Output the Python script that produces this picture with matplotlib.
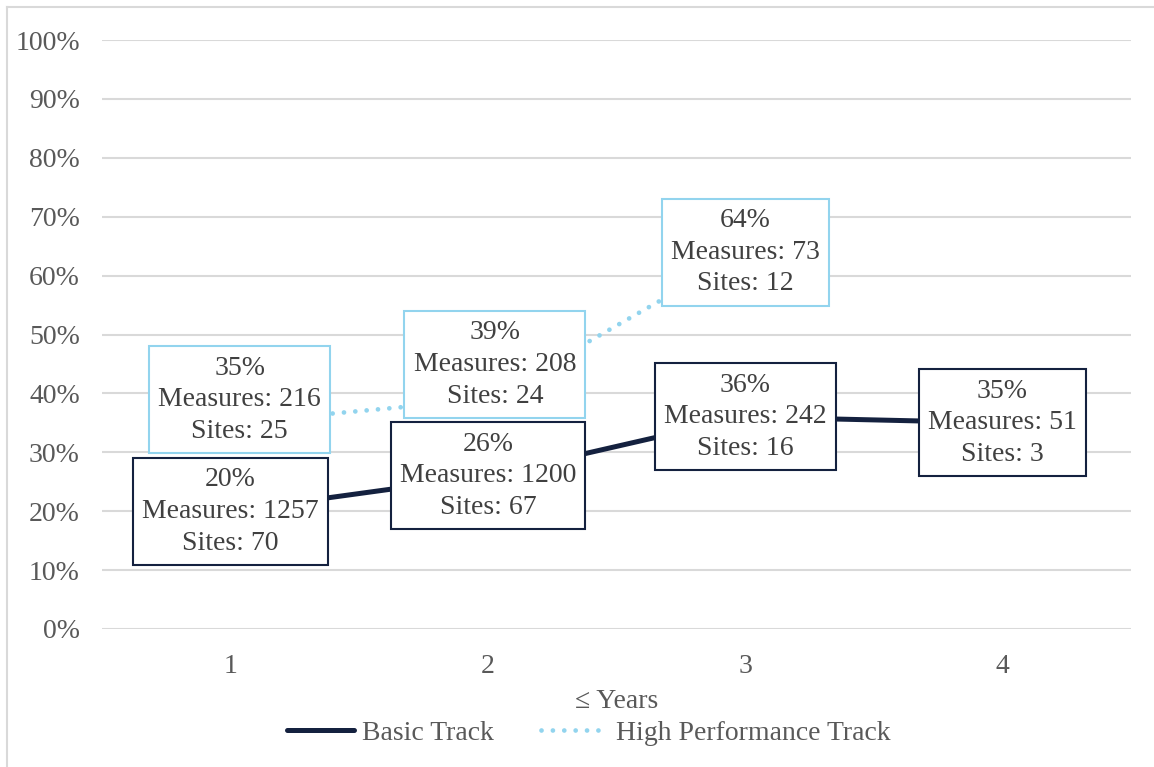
import matplotlib
matplotlib.use("Agg")
import matplotlib.pyplot as plt
from matplotlib.lines import Line2D

plt.rcParams['font.family'] = ['Liberation Serif', 'DejaVu Serif']

years = ["1", "2", "3", "4"]
basic_pct = [20, 26, 36, 35]
basic_measures = [1257, 1200, 242, 51]
basic_sites = [70, 67, 16, 3]
hp_pct = [35, 39, 64]
hp_measures = [216, 208, 73]
hp_sites = [25, 24, 12]

NAVY = "#14213f"
LIGHT = "#92d4ee"
TEXT = "#595959"
GRID = "#d9d9d9"
FS = 20
DOTS = (0, (0.01, 2.4))

fig = plt.figure(figsize=(11.54, 7.67), dpi=100)
ax = fig.add_axes([102 / 1154, 1 - 629 / 767, (1131 - 102) / 1154, (629 - 40) / 767])

x_basic = list(range(1, len(basic_pct) + 1))
x_hp = list(range(1, len(hp_pct) + 1))

ax.plot(x_basic, basic_pct, color=NAVY, lw=3.6, solid_capstyle='round', zorder=3)
ax.plot(x_hp, hp_pct, color=LIGHT, lw=3.4, linestyle=DOTS,
        dash_capstyle='round', zorder=3)

ax.set_xlim(0.5, 4.5)
ax.set_ylim(0, 100)
ax.set_yticks(range(0, 101, 10))
ax.set_yticklabels([f"{v}%" for v in range(0, 101, 10)])
ax.set_xticks(x_basic)
ax.set_xticklabels(years)
ax.yaxis.grid(True, color=GRID, lw=1.5)
ax.set_axisbelow(True)
for s in ax.spines.values():
    s.set_visible(False)
ax.tick_params(axis='both', length=0, labelsize=FS, labelcolor=TEXT)
ax.tick_params(axis='y', pad=16)
ax.tick_params(axis='x', pad=18)
ax.set_xlabel("≤ Years", fontsize=FS, color=TEXT, labelpad=7)


def label(x, pct, meas, sites, edge, offset):
    ax.annotate(f"{pct}%\nMeasures: {meas}\nSites: {sites}",
                xy=(x, pct), xytext=offset, textcoords='offset points',
                ha='center', va='center', fontsize=FS, color="#404040",
                linespacing=1.36, zorder=5,
                bbox=dict(boxstyle="square,pad=0.33", fc="white", ec=edge, lw=1.5))


hp_offsets = [(6.5, 16.5), (5, 25), (0, 0)]
for i, x in enumerate(x_hp):
    label(x, hp_pct[i], hp_measures[i], hp_sites[i], LIGHT, hp_offsets[i])
for i, x in enumerate(x_basic):
    label(x, basic_pct[i], basic_measures[i], basic_sites[i], NAVY, (0, 0))

handles = [
    Line2D([], [], color=NAVY, lw=3.6, solid_capstyle='round'),
    Line2D([], [], color=LIGHT, lw=3.4, linestyle=DOTS, dash_capstyle='round'),
]
fig.legend(handles, ["Basic Track", "High Performance Track"], loc='center',
           bbox_to_anchor=(589 / 1154, 1 - 733 / 767), ncol=2, frameon=False,
           fontsize=FS, labelcolor=TEXT, handlelength=2.4, handletextpad=0.3,
           columnspacing=1.7)

# light frame around the chart area
fig.add_artist(Line2D([7 / 1154, 7 / 1154], [0, 1 - 7 / 767], transform=fig.transFigure,
                      color=GRID, lw=1.5))
fig.add_artist(Line2D([7 / 1154, 1], [1 - 7 / 767, 1 - 7 / 767], transform=fig.transFigure,
                      color=GRID, lw=1.5))

fig.savefig("out.png", dpi=100)
